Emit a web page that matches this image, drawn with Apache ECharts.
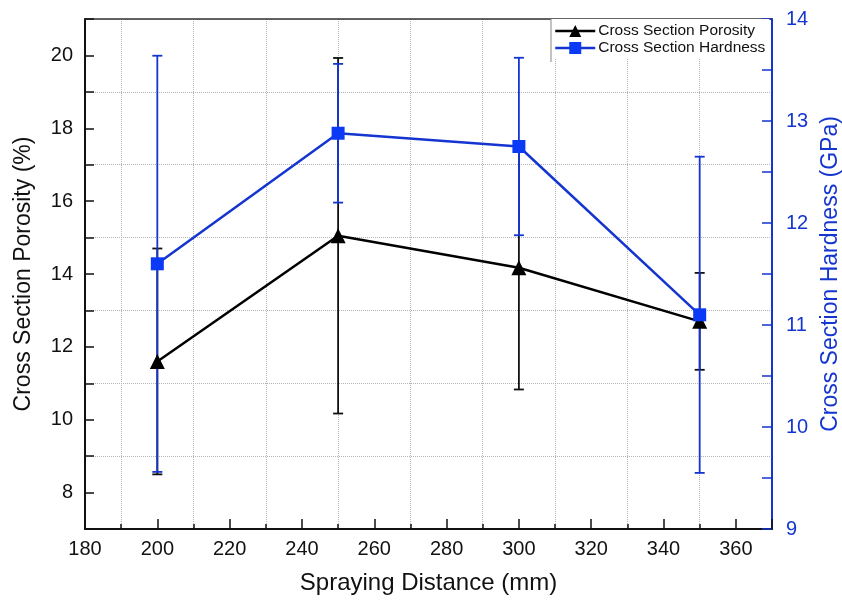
<!DOCTYPE html>
<html style="height: 100%;width:100%">
<head>
	<meta charset="UTF-8">
	<title>Spraying Distance Chart</title>
	<script src="https://cdn.jsdelivr.net/npm/echarts@6/dist/echarts.min.js"></script>
	<style type="text/css">
		body{ height:100%;width:100%; margin:0px; background:#FFFFFF; }
		#container{ width:842px; height:601px; }
	</style>
</head>
<body>
<div id="container"></div>

<script type="text/javascript">

// spraying distance (mm)
var distances = [200, 250, 300, 350];
// cross section porosity (%) and its error
var porosity = [11.6, 15.05, 14.17, 12.7];
var porosityErr = [3.1, 4.88, 3.34, 1.33];
// cross section hardness (GPa) and its error
var hardness = [11.6, 12.88, 12.75, 11.1];
var hardnessErr = [2.04, 0.68, 0.87, 1.55];

var tickFont = "'Liberation Sans', Arial, sans-serif";
var titleFont = "'Liberation Sans', Arial, sans-serif";
var blue = '#1535d0';

var pairs = function(xs, ys) {
	var out = [];
	for (var i = 0; i < xs.length; i++) out.push([xs[i], ys[i]]);
	return out;
};
var errPairs = function(xs, ys, es) {
	var out = [];
	for (var i = 0; i < xs.length; i++) out.push([xs[i], ys[i] - es[i], ys[i] + es[i]]);
	return out;
};

var errorBar = function(color) {
	return function(params, api) {
		var x = api.value(0);
		var lo = api.coord([x, api.value(1)]);
		var hi = api.coord([x, api.value(2)]);
		var style = { stroke: color, lineWidth: 1.8 };
		var w = 5;
		return {
			type: 'group',
			children: [
				{ type: 'line', shape: { x1: hi[0], y1: hi[1], x2: lo[0], y2: lo[1] }, style: style },
				{ type: 'line', shape: { x1: hi[0] - w, y1: hi[1], x2: hi[0] + w, y2: hi[1] }, style: style },
				{ type: 'line', shape: { x1: lo[0] - w, y1: lo[1], x2: lo[0] + w, y2: lo[1] }, style: style }
			]
		};
	};
};

var dom = document.getElementById("container");
var myChart = echarts.init(dom, null, { renderer: 'canvas' });
var option = {
	animation: false,
	textStyle: { fontFamily: titleFont },
	grid: { left: 85, right: 70, top: 19, bottom: 72, outerBoundsMode: 'none' },
	legend: {
		left: 551, top: 19,
		orient: 'vertical',
		padding: [4, 4, 3, 3],
		itemGap: 1,
		itemWidth: 40,
		itemHeight: 15,
		backgroundColor: '#ffffff',
		lineStyle: { width: 2.5 },
		textStyle: { fontSize: 15.5, color: '#111', fontFamily: titleFont, padding: [0, 0, 0, -2] },
		data: ['Cross Section Porosity', 'Cross Section Hardness']
	},
	graphic: [{
		type: 'line', z: 100,
		shape: { x1: 551, y1: 19, x2: 551, y2: 62 },
		style: { stroke: '#9a9a9a', lineWidth: 1.2 }
	}],
	xAxis: [{
		type: 'value', min: 180, max: 370, interval: 10,
		axisLine: { lineStyle: { color: '#111', width: 2 } },
		axisTick: { inside: true, length: 5, lineStyle: { color: '#111', width: 1.5 } },
		axisLabel: {
			margin: 10, fontSize: 20, color: '#111', fontFamily: tickFont,
			formatter: function(v) { return v % 20 === 0 ? String(v) : ''; }
		},
		splitLine: { show: true, lineStyle: { color: ['transparent', '#b4b4b4'], type: 'dotted', width: 1 } },
		name: 'Spraying Distance (mm)', nameLocation: 'middle', nameGap: 42,
		nameTextStyle: { fontSize: 24, color: '#111', fontFamily: titleFont }
	}, {
		type: 'value', min: 180, max: 370, interval: 20, position: 'bottom',
		axisLine: { show: false },
		axisTick: { inside: true, length: 10, lineStyle: { color: '#111', width: 1.5 } },
		axisLabel: { show: false },
		splitLine: { show: false }
	}, {
		type: 'value', min: 180, max: 370, position: 'top',
		axisLine: { lineStyle: { color: '#333', width: 1.5 } },
		axisTick: { show: false },
		axisLabel: { show: false },
		splitLine: { show: false }
	}],
	yAxis: [{
		type: 'value', min: 7, max: 21, interval: 1, position: 'left',
		axisLine: { show: true, lineStyle: { color: '#111', width: 2 } },
		axisTick: { show: true, inside: true, length: 9, lineStyle: { color: '#111', width: 1.5 } },
		axisLabel: {
			margin: 12, fontSize: 20, color: '#111', fontFamily: tickFont,
			formatter: function(v) { return v % 2 === 0 ? String(v) : ''; }
		},
		splitLine: { show: true, lineStyle: { color: ['#b4b4b4', 'transparent'], type: 'dotted', width: 1 } },
		name: 'Cross Section Porosity (%)', nameLocation: 'middle', nameGap: 50,
		nameTextStyle: { fontSize: 23, color: '#111', fontFamily: titleFont }
	}, {
		type: 'value', min: 9, max: 14, interval: 0.5, position: 'right',
		axisLine: { show: true, lineStyle: { color: blue, width: 2 } },
		axisTick: { show: true, inside: true, length: 10, lineStyle: { color: blue, width: 1.5 } },
		axisLabel: {
			margin: 14, fontSize: 20, color: blue, fontFamily: tickFont,
			formatter: function(v) { return v % 1 === 0 ? String(v) : ''; }
		},
		splitLine: { show: false },
		name: 'Cross Section Hardness (GPa)', nameLocation: 'middle', nameGap: 45, nameRotate: 90,
		nameTextStyle: { fontSize: 23, color: blue, fontFamily: titleFont }
	}],
	series: [{
		type: 'custom', name: 'porosityErr', z: 1,
		xAxisIndex: 0, yAxisIndex: 0,
		renderItem: errorBar('#111'),
		encode: { x: 0, y: [1, 2] },
		data: errPairs(distances, porosity, porosityErr)
	}, {
		type: 'custom', name: 'hardnessErr', z: 2,
		xAxisIndex: 0, yAxisIndex: 1,
		renderItem: errorBar(blue),
		encode: { x: 0, y: [1, 2] },
		data: errPairs(distances, hardness, hardnessErr)
	}, {
		type: 'line', name: 'Cross Section Porosity', z: 3,
		xAxisIndex: 0, yAxisIndex: 0,
		symbol: 'triangle', symbolSize: 15,
		itemStyle: { color: '#000' },
		lineStyle: { color: '#000', width: 2.5 },
		data: pairs(distances, porosity)
	}, {
		type: 'line', name: 'Cross Section Hardness', z: 4,
		xAxisIndex: 0, yAxisIndex: 1,
		symbol: 'rect', symbolSize: 13,
		itemStyle: { color: '#0a3af5' },
		lineStyle: { color: blue, width: 2.5 },
		data: pairs(distances, hardness)
	}]
};

myChart.setOption(option, true);

window.onresize = function() {
	myChart.resize();
};

</script>
</body>
</html>
